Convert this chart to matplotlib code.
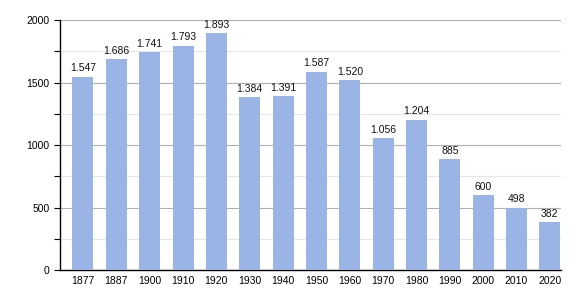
import matplotlib
matplotlib.use("Agg")
import matplotlib.pyplot as plt
from matplotlib.ticker import MultipleLocator

plt.rcParams["font.family"] = ["Liberation Sans", "DejaVu Sans"]

years = ["1877", "1887", "1900", "1910", "1920", "1930", "1940", "1950",
         "1960", "1970", "1980", "1990", "2000", "2010", "2020"]
population = [1547, 1686, 1741, 1793, 1893, 1384, 1391, 1587,
              1520, 1056, 1204, 885, 600, 498, 382]

fig = plt.figure(figsize=(5.8, 3.0), dpi=100)
ax = fig.add_axes([0.1034, 0.1, 0.8636, 0.8333])

x = list(range(len(years)))
ax.bar(x, population, width=0.63, color="#9bb4e6", zorder=3)

for xi, v in zip(x, population):
    lbl = f"{v:,}".replace(",", ".")
    ax.text(xi, v + 28, lbl, ha="center", va="bottom", fontsize=7.5,
            color="#111111", zorder=4)

ax.set_xlim(-0.69, 14.33)
ax.set_ylim(0, 2000)
ax.set_xticks(x)
ax.set_xticklabels(years)
ax.yaxis.set_major_locator(MultipleLocator(500))
ax.yaxis.set_minor_locator(MultipleLocator(250))
ax.grid(axis="y", which="major", color="#b0b0b0", linewidth=0.8, zorder=0)
ax.grid(axis="y", which="minor", color="#e6e6e6", linewidth=0.8, zorder=0)
ax.tick_params(axis="x", length=0, labelsize=7.5, pad=4)
ax.tick_params(axis="y", which="major", length=4, labelsize=7.5, width=0.8)
ax.tick_params(axis="y", which="minor", length=4, width=0.8)
for s in ["top", "right"]:
    ax.spines[s].set_visible(False)
ax.spines["left"].set_linewidth(1.0)
ax.spines["bottom"].set_linewidth(1.0)

fig.savefig("out.png", dpi=100)
